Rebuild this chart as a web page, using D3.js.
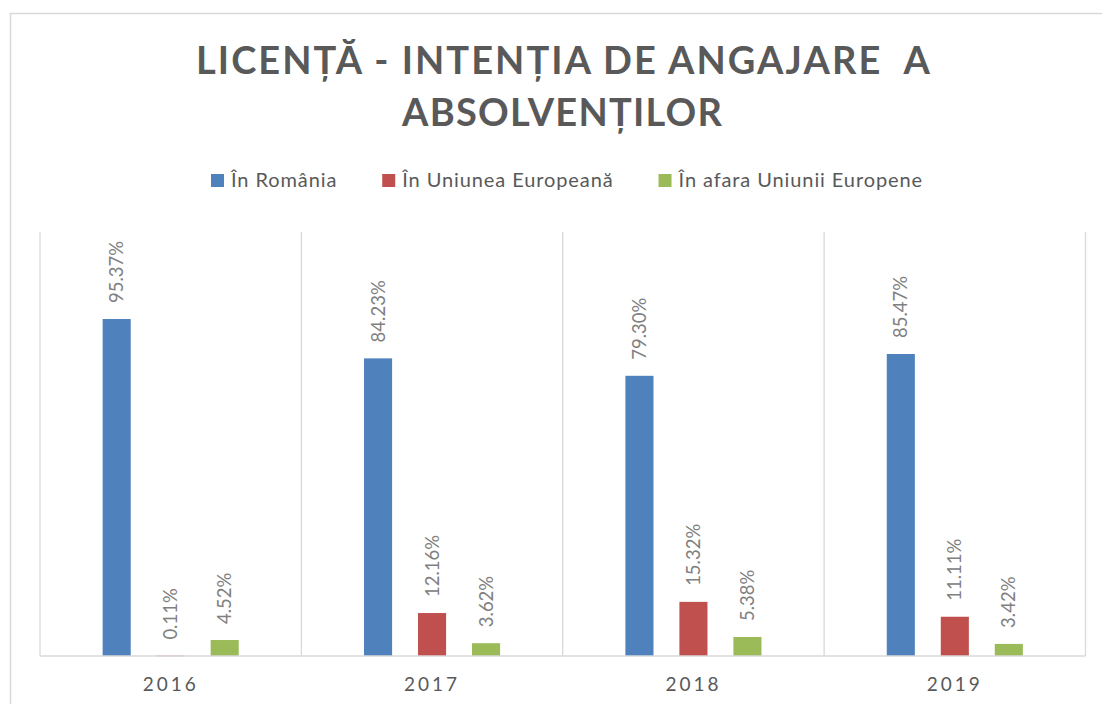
<!DOCTYPE html>
<html>
<head>
<meta charset="utf-8">
<script src="https://cdn.jsdelivr.net/npm/d3@7"></script>
<style>
  html, body { margin: 0; padding: 0; background: #fff; }
  svg { display: block; font-family: Lato, "Open Sans", sans-serif; }
</style>
</head>
<body>
<svg id="chart" width="1102" height="704"></svg>
<script>
const years = ["2016", "2017", "2018", "2019"];
const seriesNames = ["În România", "În Uniunea Europeană", "În afara Uniunii Europene"];
const romania = [95.37, 84.23, 79.30, 85.47];
const uniuneaEuropeana = [0.11, 12.16, 15.32, 11.11];
const afaraUE = [4.52, 3.62, 5.38, 3.42];
const seriesValues = [romania, uniuneaEuropeana, afaraUE];
const seriesColors = ["#4F81BD", "#C0504D", "#9BBB59"];
const titleLines = ["LICENȚĂ - INTENȚIA DE ANGAJARE  A", "ABSOLVENȚILOR"];
const yMax = 120;

const svg = d3.select("#chart");

// outer chart border
svg.append("rect")
  .attr("x", 10.5).attr("y", 13.5)
  .attr("width", 1200).attr("height", 800)
  .attr("fill", "none").attr("stroke", "#d9d9d9").attr("stroke-width", 1.5);

const plot = { left: 40, right: 1085.5, top: 232, bottom: 656 };

const x = d3.scaleBand().domain(years).range([plot.left, plot.right]).padding(0);
const xs = d3.scaleBand().domain(d3.range(seriesNames.length))
  .range([0, x.bandwidth()]).paddingInner(0.48).paddingOuter(1.16);
const y = d3.scaleLinear().domain([0, yMax]).range([plot.bottom, plot.top]);

// vertical category gridlines
const bounds = years.map(d => x(d)).concat([x(years[years.length - 1]) + x.bandwidth()]);
svg.append("g").selectAll("line").data(bounds).join("line")
  .attr("x1", d => d).attr("x2", d => d)
  .attr("y1", plot.top).attr("y2", plot.bottom)
  .attr("stroke", "#d9d9d9").attr("stroke-width", 1.3);

// bars
const flat = [];
years.forEach((yr, i) => seriesValues.forEach((vals, s) => flat.push({ yr, s, v: vals[i] })));

svg.append("g").selectAll("rect").data(flat).join("rect")
  .attr("x", d => x(d.yr) + xs(d.s))
  .attr("width", xs.bandwidth())
  .attr("y", d => y(d.v))
  .attr("height", d => Math.max(0.6, y(0) - y(d.v)))
  .attr("fill", d => seriesColors[d.s]);

// baseline
svg.append("line")
  .attr("x1", plot.left).attr("x2", plot.right)
  .attr("y1", plot.bottom).attr("y2", plot.bottom)
  .attr("stroke", "#d9d9d9").attr("stroke-width", 1.5);

// data labels (rotated)
svg.append("g").selectAll("text").data(flat).join("text")
  .attr("transform", d => `translate(${x(d.yr) + xs(d.s) + xs.bandwidth() / 2},${y(d.v) - 16}) rotate(-90)`)
  .attr("dy", "0.36em")
  .attr("text-anchor", "start")
  .attr("font-size", 18.5)
  .attr("fill", "#808080")
  .text(d => d.v.toFixed(2) + "%");

// category axis labels
const xAxis = d3.axisBottom(x).tickSize(0).tickPadding(0);
const gx = svg.append("g").attr("transform", `translate(0,${plot.bottom})`).call(xAxis);
gx.select(".domain").remove();
gx.selectAll("text")
  .attr("y", 35).attr("dy", 0)
  .attr("font-family", "Lato, sans-serif")
  .attr("font-size", 19)
  .attr("letter-spacing", "3px")
  .attr("fill", "#595959");

// title
const titlePos = [{ x: 196, y: 74, len: 734 }, { x: 402, y: 126, len: 320 }];
svg.append("g").selectAll("text").data(titleLines).join("text")
  .attr("x", (d, i) => titlePos[i].x)
  .attr("y", (d, i) => titlePos[i].y)
  .attr("textLength", (d, i) => titlePos[i].len)
  .attr("lengthAdjust", "spacing")
  .attr("font-size", 38)
  .attr("font-weight", 700)
  .attr("fill", "#595959")
  .style("white-space", "pre")
  .text(d => d);

// legend
const legendLeft = 211, legendRight = 923;
const legend = svg.append("g");
const items = legend.selectAll("g").data(seriesNames).join("g");
items.append("rect").attr("width", 13).attr("height", 13).attr("y", -13)
  .attr("fill", (d, i) => seriesColors[i]);
items.append("text").attr("x", 20).attr("y", 0)
  .attr("font-size", 20).attr("letter-spacing", "0.9px")
  .attr("fill", "#595959").text(d => d);
let widths = [];
items.each(function () { widths.push(this.getBBox().width); });
const gap = (legendRight - legendLeft - d3.sum(widths)) / (widths.length - 1);
let cx = legendLeft;
items.attr("transform", (d, i) => {
  const t = `translate(${cx},187)`;
  cx += widths[i] + gap;
  return t;
});
</script>
</body>
</html>
